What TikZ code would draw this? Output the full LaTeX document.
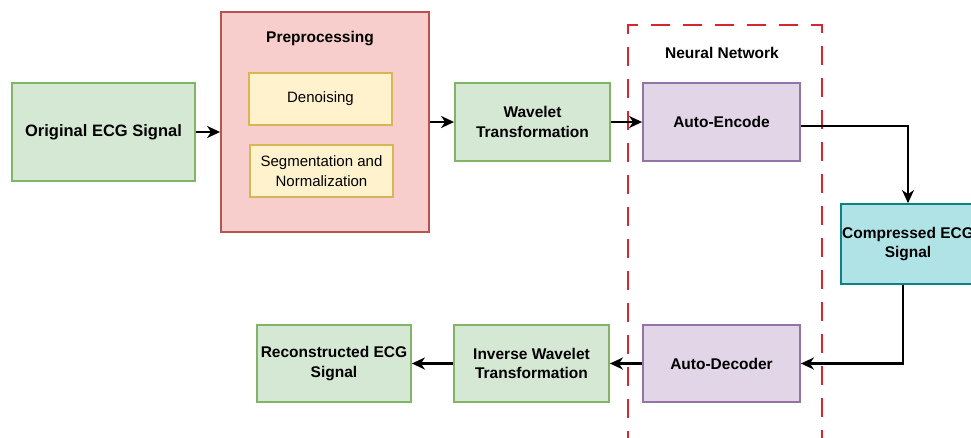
\documentclass[tikz,border=0pt]{standalone}
\usepackage{fontspec}
\setmainfont{Liberation Sans}
\usetikzlibrary{arrows.meta}
\definecolor{gfill}{HTML}{D5E8D4}\definecolor{gline}{HTML}{82B366}
\definecolor{rfill}{HTML}{F8CECC}\definecolor{rline}{HTML}{B85450}
\definecolor{yfill}{HTML}{FFF2CC}\definecolor{yline}{HTML}{D6B656}
\definecolor{pfill}{HTML}{E1D5E7}\definecolor{pline}{HTML}{9673A6}
\definecolor{tfill}{HTML}{B0E3E6}\definecolor{tline}{HTML}{0E8088}
\definecolor{nnred}{HTML}{D9252E}
\tikzset{
  box/.style={draw, line width=1.8pt, align=center, inner sep=0pt,
    font=\fontsize{15.5}{19.5}\selectfont\bfseries},
  greenbox/.style={box, fill=gfill, draw=gline},
  purplebox/.style={box, fill=pfill, draw=pline},
  yellowbox/.style={box, fill=yfill, draw=yline, line width=1.3pt,
    font=\fontsize{15}{20}\selectfont, minimum width=143pt, minimum height=52pt},
  conn/.style={line width=2.3pt, -{Stealth[length=13pt,width=12pt,inset=4pt]}},
  lbl/.style={font=\fontsize{15.5}{19}\selectfont\bfseries, inner sep=0pt}
}
\begin{document}
\begin{tikzpicture}[x=1pt,y=-1pt]
\useasboundingbox (0,0) rectangle (971,437);
\clip (0,0) rectangle (971,437);
\fill[white] (0,0) rectangle (971,437);
% Preprocessing group
\node[box, fill=rfill, draw=rline, minimum width=208pt, minimum height=220pt] (pre) at (325,122) {};
\node[lbl] (pretitle) at (320,39) {Preprocessing};
\node[yellowbox] (den) at (320.5,99) {Denoising};
\node[yellowbox] (seg) at (321.5,171) {Segmentation and\\Normalization};
% Neural network frame
\draw[nnred, line width=2.8pt, dash pattern=on 19pt off 13pt] (628,450) -- (628,25) -- (822,25) -- (822,450);
\node[lbl] (nn) at (722,53) {Neural Network};
% main boxes
\node[greenbox, minimum width=183pt, minimum height=98pt, font=\fontsize{16.5}{20}\selectfont\bfseries] (orig) at (103.5,132) {Original ECG Signal};
\node[greenbox, minimum width=155pt, minimum height=78pt] (wav) at (532.5,122) {Wavelet\\Transformation};
\node[purplebox, minimum width=157pt, minimum height=78pt] (enc) at (721.5,122) {Auto-Encode};
\node[box, fill=tfill, draw=tline, minimum width=134pt, minimum height=80pt] (comp) at (908,244) {Compressed ECG\\Signal};
\node[purplebox, minimum width=157pt, minimum height=77pt] (dec) at (721.5,363.5) {Auto-Decoder};
\node[greenbox, minimum width=155pt, minimum height=77pt] (inv) at (531.5,363.5) {Inverse Wavelet\\Transformation};
\node[greenbox, minimum width=154pt, minimum height=77pt] (rec) at (334,363.5) {Reconstructed ECG\\Signal};
% connectors
\draw[conn] (orig.east) -- (orig.east -| pre.west);
\draw[conn] (pre.east) -- (wav.west);
\draw[conn] (wav.east) -- (enc.west);
\draw[conn] ([yshift=-4pt]enc.east) -| (comp.north);
\draw[conn] ([xshift=-5pt]comp.south) |- (dec.east);
\draw[conn] (dec.west) -- (inv.east);
\draw[conn] (inv.west) -- (rec.east);
\end{tikzpicture}
\end{document}
